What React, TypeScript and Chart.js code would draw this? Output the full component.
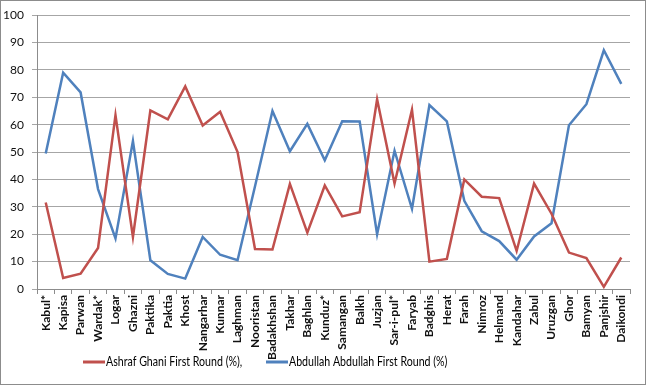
import React, { useEffect, useRef } from "react";
import { Chart, registerables } from "chart.js";

Chart.register(...registerables);

const provinces: string[] = [
  "Kabul*", "Kapisa", "Parwan", "Wardak*", "Logar", "Ghazni", "Paktika", "Paktia", "Khost",
  "Nangarhar", "Kunnar", "Laghman", "Nooristan", "Badakhshan", "Takhar", "Baghlan", "Kunduz*",
  "Samangan", "Balkh", "Juzjan", "Sar-i-pul*", "Faryab", "Badghis", "Herat", "Farah", "Nimroz",
  "Helmand", "Kandahar", "Zabul", "Uruzgan", "Ghor", "Bamyan", "Panjshir", "Daikondi",
];

const ghaniFirstRound: number[] = [
  31.6, 4, 5.6, 15, 63.5, 19, 65.2, 62, 74, 59.7, 64.7, 50, 14.6, 14.4, 38.4, 20.6, 37.8,
  26.5, 28, 69.3, 38.5, 65.5, 10, 11, 40, 33.7, 33.2, 13.9, 38.5, 27.5, 13.3, 11.3, 0.8, 11.5,
];

const abdullahFirstRound: number[] = [
  49.5, 79, 71.8, 36.5, 18.5, 54, 10.5, 5.5, 3.8, 19, 12.5, 10.5, 37.5, 65, 50.3, 60.3, 47,
  61.3, 61.2, 20, 50.5, 29.3, 67.2, 61.2, 32.2, 21.1, 17.5, 10.7, 19.2, 24, 59.8, 67.5, 87.2, 74.9,
];

const seriesLabels: string[] = [
  "Ashraf Ghani First Round (%),",
  "Abdullah Abdullah First Round (%)",
];

const seriesColors: string[] = ["#C0504D", "#4F81BD"];

const FONT = "Lato, 'Liberation Sans', Arial, sans-serif";

export default function App() {
  const ref = useRef<HTMLCanvasElement | null>(null);

  useEffect(() => {
    document.body.style.margin = "0";
    const canvas = ref.current;
    if (!canvas) return;

    const borderPlugin = {
      id: "outerBorder",
      afterDraw(chart: any) {
        const ctx = chart.ctx;
        ctx.save();
        ctx.strokeStyle = "#8c8c8c";
        ctx.lineWidth = 1;
        ctx.strokeRect(0.5, 0.5, chart.width - 2, chart.height - 2);
        ctx.restore();
      },
    };

    const legendPlugin = {
      id: "excelLegend",
      afterDraw(chart: any) {
        const ctx = chart.ctx;
        const y = 362;
        const starts = [83, 266];
        const squeeze = 0.85;
        ctx.save();
        ctx.font = "12.5px " + FONT;
        ctx.textBaseline = "middle";
        ctx.textAlign = "left";
        chart.data.datasets.forEach((ds: any, i: number) => {
          const x0 = starts[i];
          ctx.strokeStyle = ds.borderColor;
          ctx.lineWidth = 3;
          ctx.beginPath();
          ctx.moveTo(x0, y);
          ctx.lineTo(x0 + 22, y);
          ctx.stroke();
          ctx.save();
          ctx.translate(x0 + 23, y);
          ctx.scale(squeeze, 1);
          ctx.fillStyle = "#000";
          ctx.fillText(ds.label, 0, 0);
          ctx.restore();
        });
        ctx.restore();
      },
    };

    const chart = new Chart(canvas, {
      type: "line",
      data: {
        labels: provinces,
        datasets: [
          {
            label: seriesLabels[0],
            data: ghaniFirstRound,
            borderColor: seriesColors[0],
            backgroundColor: seriesColors[0],
            borderWidth: 2.5,
            pointRadius: 0,
            tension: 0,
          },
          {
            label: seriesLabels[1],
            data: abdullahFirstRound,
            borderColor: seriesColors[1],
            backgroundColor: seriesColors[1],
            borderWidth: 2.5,
            pointRadius: 0,
            tension: 0,
          },
        ],
      },
      options: {
        animation: false,
        responsive: false,
        maintainAspectRatio: false,
        layout: { padding: { top: 13, right: 17, bottom: 0, left: 0 } },
        plugins: {
          tooltip: { enabled: false },
          legend: { display: false },
        },
        scales: {
          x: {
            offset: true,
            grid: {
              offset: true,
              drawOnChartArea: false,
              drawTicks: true,
              tickLength: 5,
              color: "#8c8c8c",
            },
            border: { color: "#8c8c8c" },
            ticks: {
              autoSkip: false,
              minRotation: 90,
              maxRotation: 90,
              color: "#111",
              padding: 1,
              font: { family: FONT, size: 12, weight: "bold" },
            },
            afterFit: (s: any) => {
              s.height = 97;
            },
          },
          y: {
            min: 0,
            max: 100,
            ticks: {
              stepSize: 10,
              color: "#111",
              padding: 8,
              font: { family: FONT, size: 12 },
            },
            grid: {
              color: "#a6a6a6",
              tickLength: 5,
            },
            border: { color: "#8c8c8c" },
            afterFit: (s: any) => {
              s.width = 37;
            },
          },
        },
      },
      plugins: [borderPlugin, legendPlugin],
    });

    return () => chart.destroy();
  }, []);

  return <canvas ref={ref} width={647} height={386} style={{ display: "block" }} />;
}
